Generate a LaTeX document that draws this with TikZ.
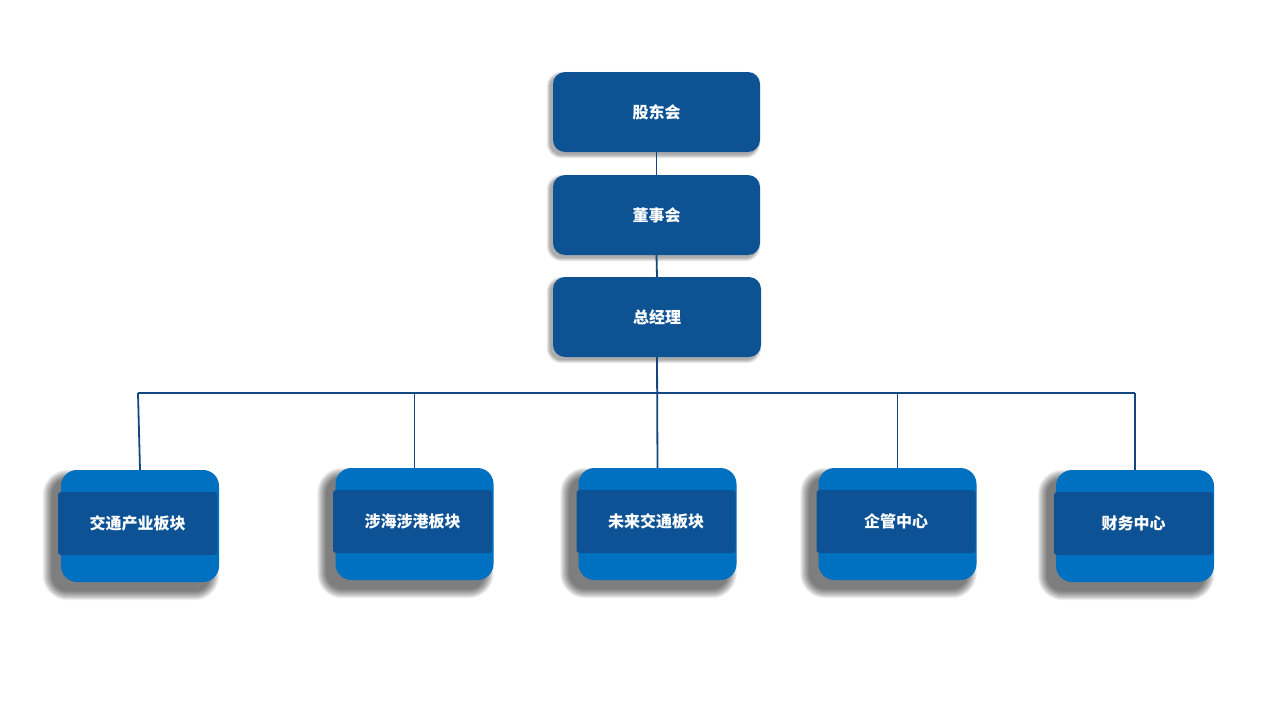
\documentclass[tikz,border=0pt]{standalone}
\usepackage{fontspec}
\newfontfamily\cjk{Noto Sans CJK SC}
\pgfdeclarelayer{paper}
\pgfdeclarelayer{shadowlayer}
\pgfsetlayers{paper,shadowlayer,main}
\definecolor{topblue}{HTML}{0D5394}
\definecolor{outerblue}{HTML}{0070C0}
\definecolor{bandblue}{HTML}{0D5295}
\definecolor{linecol}{HTML}{12477F}
\tikzset{
  topbox/.style={fill=topblue, rounded corners=12pt, minimum width=207pt, minimum height=80pt, inner sep=0pt,
    text=white, font=\cjk\bfseries\fontsize{16}{19}\selectfont},
  outerbox/.style={fill=outerblue, rounded corners=16pt, minimum width=158pt, minimum height=112pt, inner sep=0pt},
  band/.style={fill=bandblue, rounded corners=3pt, minimum width=159pt, minimum height=63pt, inner sep=0pt,
    text=white, font=\cjk\bfseries\fontsize{16}{19}\selectfont},
  conn/.style={draw=linecol, line width=1.8pt},
  softshade/.style={fill=black, opacity=#1}
}
\begin{document}
\begin{tikzpicture}[x=1pt,y=-1pt]
\begin{pgfonlayer}{paper}
\useasboundingbox[fill=white] (0,0) rectangle (1280,720);
\end{pgfonlayer}
% top boxes
\node[topbox] (gd) at (656.5,112) {股东会};
\node[topbox] (ds) at (656.5,215) {董事会};
\node[topbox, minimum width=208pt] (gm) at (657,317) {总经理};
% bottom boxes
\node[outerbox] (o1) at (140,526) {};
\node[outerbox] (o2) at (414.5,524) {};
\node[outerbox] (o3) at (657.5,524) {};
\node[outerbox] (o4) at (897.5,524) {};
\node[outerbox] (o5) at (1135,526) {};
\node[band] (p1) at (137.5,523.5) {交通产业板块};
\node[band] (p2) at (412.5,521.5) {涉海涉港板块};
\node[band] (p3) at (656,521.5) {未来交通板块};
\node[band] (p4) at (896,521.5) {企管中心};
\node[band] (p5) at (1133.5,523.5) {财务中心};
% soft shadows
\begin{pgfonlayer}{shadowlayer}
  \foreach \n in {gd,ds,gm}{
    \foreach \k in {0,...,3}{
      \fill[softshade=0.09, rounded corners=12pt+\k pt]
        ([shift={(-3-\k,3+\k)}]\n.south west) rectangle ([shift={(-3+\k,3-\k)}]\n.north east);
    }
  }
  \foreach \n in {o1,o2,o3,o4,o5}{
    \foreach \k in {0,...,9}{
      \fill[softshade=0.065, rounded corners=16pt+\k pt]
        ([shift={(-9-\k,9+\k)}]\n.south west) rectangle ([shift={(-9+\k,9-\k)}]\n.north east);
    }
  }
\end{pgfonlayer}
% bus
\coordinate (busL) at (138,393);
\coordinate (busR) at (1135,393);
% connectors
\draw[conn] (gd.south) -- (ds.north);
\draw[conn] (ds.south) -- (gm.north);
\draw[conn] (gm.south) -- (o3.north);
\draw[conn] (busL) -- (busR);
\draw[conn] (busL) -- (o1.north);
\draw[conn] (o2.north |- busL) -- (o2.north);
\draw[conn] (o4.north |- busL) -- (o4.north);
\draw[conn] (busR) -- (o5.north);
\end{tikzpicture}
\end{document}
